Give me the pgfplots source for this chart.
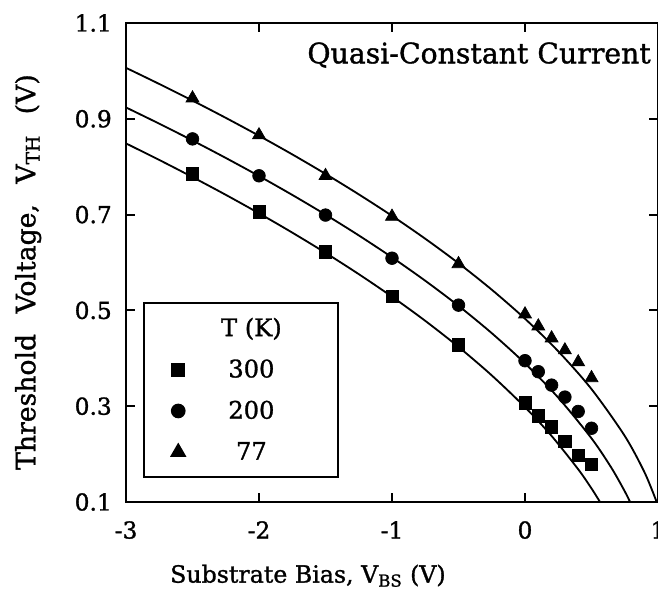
\documentclass[border=0pt]{standalone}
\usepackage{pgfplots}
\pgfplotsset{compat=1.18}
\usepackage{fontspec}
\setmainfont{DejaVu Serif}[FakeBold=1.2]
\begin{document}
\begin{tikzpicture}[font=\fontsize{13.5}{16}\selectfont]
\begin{axis}[
 name=ax, at={(0,0)}, anchor=south west,
 scale only axis, width=319.2pt, height=287.4pt,
 xmin=-3, xmax=1, ymin=0.1, ymax=1.1,
 xtick={-3,-2,-1,0,1}, xticklabels={-3,-2,-1,0,1},
 ytick={0.1,0.3,0.5,0.7,0.9,1.1}, yticklabels={0.1,0.3,0.5,0.7,0.9,1.1},
 minor tick num=0,
 tick align=inside, major tick length=5.4pt,
 axis line style={line width=1.3pt},
 every tick/.style={line width=1.1pt, black},
 ticklabel style={font=\fontsize{14}{16}\selectfont},
 xticklabel style={yshift=-8pt},
 yticklabel style={xshift=-5pt},
 xlabel={Substrate Bias, V\textsubscript{BS} (V)},
 ylabel={Threshold\hspace{0.45em} Voltage,\hspace{0.45em} V\textsubscript{TH}\hspace{0.45em} (V)},
 xlabel style={at={(axis description cs:0.342,-0.154)}, anchor=center, font=\fontsize{14.2}{16}\selectfont},
 ylabel style={at={(axis description cs:-0.184,0.48)}, anchor=center, font=\fontsize{16}{18}\selectfont},
 legend style={at={(axis description cs:0.032,0.418)}, anchor=north west,
   draw=black, line width=1.2pt, inner xsep=12pt, inner ysep=7pt,
   row sep=8.5pt, legend cell align=center,
   font=\fontsize{14.5}{16}\selectfont},
]
\addlegendimage{empty legend}\addlegendentry{T (K)\rule[-8pt]{0pt}{8pt}}
% fitted curves
\addplot[black, line width=1.1pt, smooth, forget plot] coordinates {
(-3,0.8486)(-2.75,0.8141)(-2.5,0.7783)(-2.25,0.7413)(-2,0.7027)(-1.75,0.6624)(-1.5,0.6202)(-1.25,0.5757)(-1,0.5286)(-0.75,0.4782)(-0.5,0.4238)(-0.25,0.3643)(0,0.298)(0.2,0.2379)(0.4,0.1683)(0.5,0.1283)(0.564,0.1)};
\addplot[black, line width=1.1pt, smooth, forget plot] coordinates {
(-3,0.9237)(-2.75,0.8898)(-2.5,0.8547)(-2.25,0.8183)(-2,0.7805)(-1.75,0.7411)(-1.5,0.6999)(-1.25,0.6566)(-1,0.6107)(-0.75,0.5619)(-0.5,0.5095)(-0.25,0.4525)(0,0.3894)(0.25,0.3178)(0.5,0.2329)(0.65,0.1712)(0.75,0.1223)(0.79,0.1)};
\addplot[black, line width=1.1pt, smooth, forget plot] coordinates {
(-3,1.0064)(-2.75,0.9727)(-2.5,0.938)(-2.25,0.902)(-2,0.8646)(-1.75,0.8257)(-1.5,0.785)(-1.25,0.7423)(-1,0.6974)(-0.75,0.6496)(-0.5,0.5985)(-0.25,0.5432)(0,0.4826)(0.25,0.4146)(0.5,0.3357)(0.75,0.2379)(0.9,0.1611)(0.99,0.1)};
% data
\addplot[black, only marks, mark=square*, mark size=3.7pt] coordinates {
(-2.5,0.785)(-2,0.706)(-1.5,0.622)(-1,0.530)(-0.5,0.428)(0,0.307)(0.1,0.280)(0.2,0.257)(0.3,0.226)(0.4,0.197)(0.5,0.179)};
\addlegendentry{\makebox[76pt]{300}}
\addplot[black, only marks, mark=*, mark size=3.8pt] coordinates {
(-2.5,0.858)(-2,0.781)(-1.5,0.699)(-1,0.609)(-0.5,0.511)(0,0.395)(0.1,0.372)(0.2,0.344)(0.3,0.319)(0.4,0.289)(0.5,0.254)};
\addlegendentry{\makebox[76pt]{200}}
\addplot[black, only marks, mark=triangle*, mark size=4.5pt] coordinates {
(-2.5,0.943)(-2,0.866)(-1.5,0.781)(-1,0.696)(-0.5,0.597)(0,0.492)(0.1,0.467)(0.2,0.442)(0.3,0.417)(0.4,0.392)(0.5,0.359)};
\addlegendentry{\makebox[76pt]{77}}
\node[anchor=east, font=\fontsize{17}{20}\selectfont] at (axis cs:0.99,1.033) {Quasi-Constant Current};
\end{axis}
\pgfresetboundingbox
\path ([shift={(-75.6pt,-59.4pt)}]ax.south west) rectangle ([shift={(0pt,13.8pt)}]ax.north east);
\end{tikzpicture}
\end{document}
